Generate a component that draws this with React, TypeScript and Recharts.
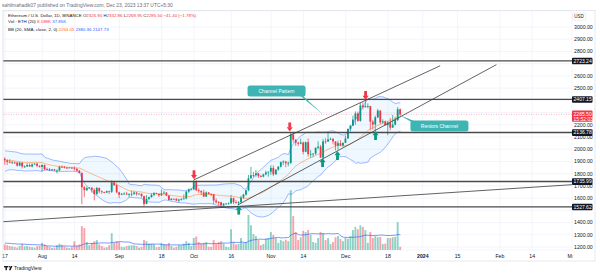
import React from "react";
import {
  Area,
  Bar,
  CartesianGrid,
  ComposedChart,
  Line,
  ReferenceDot,
  ReferenceLine,
  XAxis,
  YAxis,
} from "recharts";

// daily candles, Jul 17 2023 (day 0) .. Dec 23 2023 (day 159)
const opens = [
  1922, 1909, 1897, 1890, 1892, 1891, 1866, 1890, 1859, 1859, 1871, 1859, 1875, 1882, 1864,
  1856, 1871, 1838, 1836, 1828, 1835, 1826, 1826, 1856, 1855, 1850, 1848, 1850, 1844, 1840, 1825, 1805, 1689, 1665, 1682, 1686, 1668, 1634, 1683, 1656, 1650, 1645, 1657, 1652, 1728, 1705,
  1647, 1628, 1636, 1637, 1630, 1633, 1635, 1646, 1635, 1636, 1616, 1552, 1593, 1607, 1626, 1641, 1635, 1623, 1639, 1645, 1621, 1585, 1594, 1593, 1580, 1588, 1593, 1597, 1653, 1669,
  1671, 1733, 1664, 1657, 1647, 1612, 1646, 1634, 1633, 1580, 1567, 1566, 1540, 1553, 1555, 1557, 1599, 1566, 1563, 1566, 1604, 1629, 1664, 1762, 1787, 1789, 1803, 1780, 1776, 1794, 1810,
  1816, 1847, 1795, 1833, 1857, 1894, 1899, 1886, 1888, 2121, 2078, 2053, 2045, 2055, 1979, 2058, 1960, 1962, 1964, 2012, 2022, 1931, 2064, 2063, 2081, 2085, 2064, 2029, 2049, 2030,
  2052, 2088, 2166, 2193, 2243, 2293, 2232, 2358, 2344, 2353, 2353, 2225, 2202, 2261, 2316, 2219, 2228, 2197, 2217, 2177, 2201, 2239, 2326.9,
];
const highs = [
  1934, 1919, 1918, 1905, 1898, 1895, 1895, 1892, 1868, 1887, 1885, 1886, 1885, 1888, 1870,
  1877, 1875, 1850, 1847, 1838, 1840, 1835, 1865, 1868, 1862, 1854, 1854, 1853, 1860, 1845, 1830, 1815, 1700, 1695, 1690, 1688, 1680, 1692, 1686, 1663, 1652, 1662, 1660, 1745, 1732, 1720,
  1652, 1642, 1648, 1652, 1640, 1660, 1655, 1650, 1640, 1638, 1620, 1625, 1612, 1640, 1650, 1645, 1637, 1670, 1660, 1650, 1625, 1600, 1598, 1600, 1595, 1600, 1630, 1660, 1680, 1680,
  1750, 1745, 1680, 1665, 1668, 1655, 1650, 1640, 1635, 1598, 1575, 1570, 1560, 1560, 1565, 1625, 1605, 1583, 1575, 1620, 1635, 1667, 1790, 1855, 1815, 1830, 1805, 1790, 1800, 1825, 1818,
  1868, 1868, 1836, 1862, 1900, 1910, 1905, 1900, 2136, 2135, 2082, 2062, 2087, 2062, 2063, 2088, 1993, 1968, 2015, 2065, 2035, 2085, 2090, 2135, 2095, 2090, 2066, 2070, 2075, 2055,
  2112, 2170, 2200, 2275, 2310, 2308, 2380, 2385, 2403, 2375, 2355, 2240, 2275, 2330, 2320, 2245, 2235, 2230, 2255, 2280, 2265, 2345, 2332.86,
];
const lows = [
  1872, 1871, 1886, 1880, 1880, 1858, 1860, 1843, 1848, 1855, 1855, 1852, 1872, 1852, 1850,
  1815, 1826, 1827, 1820, 1822, 1822, 1803, 1822, 1850, 1842, 1838, 1845, 1838, 1826, 1815, 1804, 1550, 1610, 1658, 1675, 1645, 1582, 1626, 1640, 1635, 1642, 1642, 1632, 1642, 1700, 1640,
  1600, 1624, 1630, 1625, 1605, 1615, 1625, 1620, 1632, 1605, 1531, 1550, 1585, 1605, 1615, 1630, 1610, 1617, 1633, 1615, 1580, 1582, 1590, 1575, 1565, 1580, 1590, 1590, 1643, 1665,
  1668, 1658, 1643, 1625, 1610, 1610, 1628, 1616, 1552, 1555, 1540, 1521, 1530, 1550, 1548, 1555, 1550, 1555, 1545, 1563, 1596, 1620, 1656, 1760, 1772, 1775, 1765, 1770, 1770, 1788, 1775,
  1790, 1780, 1790, 1825, 1850, 1870, 1853, 1860, 1880, 2055, 2028, 2026, 2040, 1958, 1975, 1940, 1930, 1935, 1955, 1998, 1930, 1930, 2045, 2060, 2076, 2040, 1990, 1995, 2025, 2020,
  2050, 2085, 2145, 2190, 2200, 2225, 2225, 2325, 2340, 2335, 2155, 2160, 2150, 2255, 2205, 2210, 2195, 2115, 2155, 2175, 2195, 2230, 2268.95,
];
const closes = [
  1909, 1897, 1890, 1892, 1891, 1866, 1890, 1859, 1859, 1871, 1859, 1875, 1882, 1864, 1856,
  1871, 1838, 1836, 1828, 1835, 1826, 1826, 1856, 1855, 1850, 1848, 1850, 1844, 1840, 1825, 1805, 1689, 1665, 1682, 1686, 1668, 1634, 1683, 1656, 1650, 1645, 1657, 1652, 1728, 1705, 1647,
  1628, 1636, 1637, 1630, 1633, 1635, 1646, 1635, 1636, 1616, 1552, 1593, 1607, 1626, 1641, 1635, 1623, 1639, 1645, 1621, 1585, 1594, 1593, 1580, 1588, 1593, 1597, 1653, 1669, 1671,
  1733, 1664, 1657, 1647, 1612, 1646, 1634, 1633, 1580, 1567, 1566, 1540, 1553, 1555, 1557, 1599, 1566, 1563, 1566, 1604, 1629, 1664, 1762, 1787, 1789, 1803, 1780, 1776, 1794, 1810, 1816,
  1847, 1795, 1833, 1857, 1894, 1899, 1886, 1888, 2121, 2078, 2053, 2045, 2055, 1979, 2058, 1960, 1962, 1964, 2012, 2022, 1931, 2064, 2063, 2081, 2085, 2064, 2029, 2049, 2030, 2052,
  2088, 2166, 2193, 2243, 2293, 2232, 2358, 2344, 2353, 2353, 2225, 2202, 2261, 2316, 2219, 2228, 2197, 2217, 2177, 2201, 2239, 2326.9, 2285.5,
];
// volume in thousand ETH
const volumes = [
  14, 12, 10, 9, 8, 6, 10, 15, 9, 10, 8, 7, 6, 9, 10,
  18, 14, 10, 8, 5, 6, 12, 16, 13, 9, 6, 5, 7, 22, 10, 14, 60, 55, 20, 12, 18, 22, 25, 14, 10, 6, 7, 12, 42, 18, 22,
  20, 8, 7, 10, 11, 12, 12, 10, 6, 8, 25, 22, 16, 16, 14, 7, 8, 18, 14, 14, 18, 10, 6, 8, 12, 12, 16, 22, 18, 10,
  30, 34, 20, 16, 18, 20, 8, 8, 25, 15, 20, 22, 16, 8, 7, 52, 20, 14, 15, 30, 18, 20, 88, 62, 40, 35, 25, 12, 15, 28, 30,
  45, 38, 30, 18, 25, 22, 26, 22, 150, 85, 45, 25, 32, 48, 45, 50, 38, 20, 18, 30, 45, 42, 25, 30, 15, 20, 32, 35, 28, 22,
  30, 28, 35, 50, 58, 52, 62, 58, 50, 18, 45, 30, 35, 32, 33, 15, 16, 30, 30, 32, 33, 70, 8.188,
];
// the 19 sessions before day 0, only for the 20-day indicators
const warmupCloses = [1830, 1852, 1934, 1925, 1937, 1955, 1937, 1910, 1850, 1868, 1864, 1860, 1880, 1878, 1872, 2005, 1935, 1928, 1922];
const warmupVolumes = [20, 18, 25, 14, 16, 12, 14, 18, 22, 14, 10, 9, 15, 14, 16, 45, 30, 12, 10];

const dateTicks = [0, 15, 28, 46, 63, 76, 91, 107, 120, 137, 154, 168, 182, 199, 212, 228];
const dateLabels = ["17", "Aug", "14", "Sep", "18", "Oct", "16", "Nov", "14", "Dec", "18", "2024", "15", "Feb", "14", "Mar"];
const priceTicks = [1200, 1300, 1400, 1500, 1600, 1700, 1800, 1900, 2000, 2100, 2200, 2300, 2400, 2500, 2600, 2700, 2800, 2900, 3000];
// these tick labels sit under the level tags
const coveredTicks = [1500, 2300, 2400, 2700];

const levels = [2723.24, 2407.15, 2136.78, 1735.99, 1527.62];
const lastPrice = 2285.5;
const lastTime = "15:52:03";

// drawings: [day, price]
const trendLines = [
  [[76, 1750], [175, 2683]],
  [[93.6, 1544], [197.6, 2692]],
  [[-0.8, 1407], [228, 1710]],
];
const sellMarks = [[76, 1754], [114.5, 2145], [145, 2403]];
const buyMarks = [[94, 1539], [127.7, 1928], [133.7, 1985], [149, 2149]];
const calloutText = ["Channel Pattern", "Reniors Channel"];
const calloutAt = [[109.2, 2476], [174.7, 2190]];
const calloutLeader = [
  [[118.5, 2452], [128.1, 2280]],
  [[164.3, 2223], [158.6, 2280]],
];

const GREEN = "#089981";
const RED = "#f23645";
const BLUE = "#2962ff";
const ORANGE = "#ff6d00";
const TEAL = "#3fb4b4";
const INK = "#131722";
const FONT = "'Liberation Sans', Arial, sans-serif";

function rolling(values: number[], n: number) {
  return values.map((_, i) => {
    const w = values.slice(Math.max(0, i - n + 1), i + 1);
    const mean = w.reduce((a, b) => a + b, 0) / w.length;
    const sd = Math.sqrt(w.reduce((a, b) => a + (b - mean) ** 2, 0) / w.length);
    return { mean, sd };
  });
}

const closeStats = rolling([...warmupCloses, ...closes], 20).slice(warmupCloses.length);
const volStats = rolling([...warmupVolumes, ...volumes], 20).slice(warmupVolumes.length);

const rows = closes.map((c, i) => {
  const basis = closeStats[i].mean;
  const upper = basis + 2 * closeStats[i].sd;
  const lower = basis - 2 * closeStats[i].sd;
  return {
    d: i,
    o: opens[i],
    h: highs[i],
    l: lows[i],
    c,
    range: [lows[i], highs[i]],
    v: volumes[i],
    up: c >= opens[i],
    basis,
    upper,
    lower,
    band: [lower, upper],
    vma: volStats[i].mean,
  };
});

function Candle(props: any) {
  const { x, y, width, height, payload } = props;
  const top = Math.min(y, y + height);
  const span = Math.abs(height);
  const k = span / Math.max(payload.h - payload.l, 0.01);
  const yo = top + (payload.h - payload.o) * k;
  const yc = top + (payload.h - payload.c) * k;
  const cx = x + width / 2;
  const color = payload.up ? GREEN : RED;
  return (
    <g>
      <line x1={cx} x2={cx} y1={top} y2={top + span} stroke={color} strokeWidth={0.7} />
      <rect x={cx - 0.9} y={Math.min(yo, yc)} width={1.8} height={Math.max(Math.abs(yo - yc), 0.8)} fill={color} />
    </g>
  );
}

function VolumeBar(props: any) {
  const { x, y, width, height, payload } = props;
  return (
    <rect
      x={x + width / 2 - 0.95}
      y={Math.min(y, y + height)}
      width={1.9}
      height={Math.abs(height)}
      fill={payload.up ? GREEN : RED}
      fillOpacity={0.45}
    />
  );
}

function DateTick(props: any) {
  const { x, y, payload } = props;
  const label = dateLabels[dateTicks.indexOf(payload.value)];
  return (
    <text x={x} y={y + 7.6} textAnchor="middle" fontSize={5.2} fontFamily={FONT} fill={INK} fontWeight={label === "2024" ? 700 : 400}>
      {label}
    </text>
  );
}

function PriceTick(props: any) {
  const { x, y, payload } = props;
  if (coveredTicks.includes(payload.value)) return null;
  return (
    <text x={x + 2} y={y + 1.9} fontSize={5.2} fontFamily={FONT} fill={INK}>
      {payload.value.toFixed(2)}
    </text>
  );
}

function LevelTag(props: any) {
  const { viewBox, text } = props;
  const x = viewBox.x + viewBox.width;
  const y = viewBox.y;
  return (
    <g>
      <rect x={x} y={y - 3.2} width={20.5} height={6.6} rx={1} fill={INK} />
      <text x={x + 1.6} y={y + 1.9} fontSize={5} fontFamily={FONT} fill="#fff">
        {text}
      </text>
    </g>
  );
}

function LastTag(props: any) {
  const { viewBox } = props;
  const x = viewBox.x + viewBox.width;
  const y = viewBox.y;
  return (
    <g>
      <rect x={x} y={y - 3.8} width={20.5} height={11.2} rx={1} fill={RED} />
      <text x={x + 1.6} y={y + 1.9} fontSize={5} fontFamily={FONT} fill="#fff">
        {lastPrice.toFixed(2)}
      </text>
      <text x={x + 1.6} y={y + 6.6} fontSize={5} fontFamily={FONT} fill="#fff">
        {lastTime}
      </text>
    </g>
  );
}

function SellArrow(props: any) {
  const { cx, cy } = props;
  return (
    <g fill={RED}>
      <rect x={cx - 1.4} y={cy - 9} width={2.8} height={5} />
      <polygon points={`${cx - 3},${cy - 4.2} ${cx + 3},${cy - 4.2} ${cx},${cy}`} />
    </g>
  );
}

function BuyArrow(props: any) {
  const { cx, cy } = props;
  return (
    <g fill={GREEN}>
      <rect x={cx - 1.4} y={cy + 4} width={2.8} height={5} />
      <polygon points={`${cx - 3},${cy + 4.2} ${cx + 3},${cy + 4.2} ${cx},${cy}`} />
    </g>
  );
}

function CalloutBox(props: any) {
  const { cx, cy, text } = props;
  return (
    <g>
      <rect x={cx - 29} y={cy - 5.5} width={58} height={11} rx={2.5} fill={TEAL} />
      <text x={cx} y={cy + 1.8} textAnchor="middle" fontSize={5} fontFamily={FONT} fill="#fff">
        {text}
      </text>
    </g>
  );
}

function Wedge(props: any) {
  const { x1, y1, x2, y2 } = props;
  return <polygon points={`${x1},${y1 - 1.3} ${x1},${y1 + 1.3} ${x2},${y2}`} fill={TEAL} />;
}

export default function App() {
  return (
    <div style={{ position: "absolute", left: 0, top: 0, width: 600, height: 275, background: "#fff" }}>
      <ComposedChart width={600} height={275} data={rows} margin={{ top: 11, right: 3, bottom: 14, left: 3 }}>
        <CartesianGrid xAxisId="p" yAxisId="p" stroke="#f0f3fa" strokeWidth={0.8} />
        <XAxis
          xAxisId="p"
          type="number"
          dataKey="d"
          domain={[-0.8, 228]}
          allowDataOverflow
          ticks={dateTicks}
          interval={0}
          tick={<DateTick />}
          tickLine={false}
          axisLine={false}
          tickSize={0}
          tickMargin={0}
          height={11}
        />
        <XAxis xAxisId="v" type="number" dataKey="d" domain={[-0.8, 228]} allowDataOverflow hide />
        <YAxis
          yAxisId="p"
          orientation="right"
          domain={[1175.5, 3131]}
          allowDataOverflow
          ticks={priceTicks}
          interval={0}
          tick={<PriceTick />}
          tickLine={false}
          axisLine={false}
          tickSize={0}
          tickMargin={0}
          width={25}
        />
        <YAxis yAxisId="v" domain={[0, 600]} allowDataOverflow hide />

        <Bar xAxisId="v" yAxisId="v" dataKey="v" barSize={2} shape={<VolumeBar />} isAnimationActive={false} />
        <Line xAxisId="v" yAxisId="v" type="linear" dataKey="vma" stroke={BLUE} strokeWidth={0.8} strokeOpacity={0.8} dot={false} isAnimationActive={false} />

        <Area xAxisId="p" yAxisId="p" type="linear" dataKey="band" stroke="none" fill="#2196f3" fillOpacity={0.07} isAnimationActive={false} />
        <Line xAxisId="p" yAxisId="p" type="linear" dataKey="upper" stroke={BLUE} strokeOpacity={0.55} strokeWidth={0.8} dot={false} isAnimationActive={false} />
        <Line xAxisId="p" yAxisId="p" type="linear" dataKey="lower" stroke={BLUE} strokeOpacity={0.55} strokeWidth={0.8} dot={false} isAnimationActive={false} />
        <Line xAxisId="p" yAxisId="p" type="linear" dataKey="basis" stroke={ORANGE} strokeOpacity={0.55} strokeWidth={0.8} dot={false} isAnimationActive={false} />

        <ReferenceLine xAxisId="p" yAxisId="p" y={lastPrice} stroke={RED} strokeOpacity={0.5} strokeWidth={0.7} strokeDasharray="1 1.5" label={<LastTag />} />

        <Bar xAxisId="p" yAxisId="p" dataKey="range" barSize={2} shape={<Candle />} isAnimationActive={false} />

        {levels.map((lv) => (
          <ReferenceLine key={lv} xAxisId="p" yAxisId="p" y={lv} stroke="#4a4a4a" strokeWidth={1.3} label={<LevelTag text={lv.toFixed(2)} />} />
        ))}
        {trendLines.map((seg, i) => (
          <ReferenceLine
            key={"t" + i}
            xAxisId="p"
            yAxisId="p"
            segment={[{ x: seg[0][0], y: seg[0][1] }, { x: seg[1][0], y: seg[1][1] }]}
            stroke="#3a3a3a"
            strokeWidth={0.8}
            ifOverflow="visible"
          />
        ))}
        {calloutLeader.map((seg, i) => (
          <ReferenceLine
            key={"w" + i}
            xAxisId="p"
            yAxisId="p"
            segment={[{ x: seg[0][0], y: seg[0][1] }, { x: seg[1][0], y: seg[1][1] }]}
            shape={<Wedge />}
            ifOverflow="visible"
          />
        ))}
        {calloutAt.map((p, i) => (
          <ReferenceDot key={"c" + i} xAxisId="p" yAxisId="p" x={p[0]} y={p[1]} ifOverflow="visible" shape={<CalloutBox text={calloutText[i]} />} />
        ))}
        {sellMarks.map((p, i) => (
          <ReferenceDot key={"s" + i} xAxisId="p" yAxisId="p" x={p[0]} y={p[1]} ifOverflow="visible" shape={<SellArrow />} />
        ))}
        {buyMarks.map((p, i) => (
          <ReferenceDot key={"b" + i} xAxisId="p" yAxisId="p" x={p[0]} y={p[1]} ifOverflow="visible" shape={<BuyArrow />} />
        ))}
      </ComposedChart>

      <svg width={600} height={275} style={{ position: "absolute", left: 0, top: 0, pointerEvents: "none" }} fontFamily={FONT}>
        <rect x={572.5} y={251} width={22} height={9.5} fill="#fff" />
        <rect x={3} y={10.5} width={592} height={250.5} fill="none" stroke="#e0e3eb" strokeWidth={0.8} />
        <text x={2} y={6.5} fontSize={4.9} fill="#6a6d78">
          sahilmahadik07 published on TradingView.com, Dec 23, 2023 13:37 UTC+5:30
        </text>
        <text x={8} y={17.3} fontSize={4.4} fill={INK}>
          Ethereum / U.S. Dollar, 1D, BINANCE <tspan>O</tspan>
          <tspan fill={RED}>2326.90</tspan> <tspan>H</tspan>
          <tspan fill={RED}>2332.86</tspan> <tspan>L</tspan>
          <tspan fill={RED}>2268.95</tspan> <tspan>C</tspan>
          <tspan fill={RED}>2285.50 −41.40 (−1.78%)</tspan>
        </text>
        <text x={8} y={22.6} fontSize={4.4} fill={INK}>
          Vol · ETH (20) <tspan fill={RED}>8.188K</tspan> <tspan fill={BLUE}>37.85K</tspan>
        </text>
        <text x={8} y={30.5} fontSize={4.4} fill={INK}>
          BB (20, SMA, close, 2, 0) <tspan fill={ORANGE}>2264.05</tspan> <tspan fill={BLUE}>2380.36</tspan>{" "}
          <tspan fill={BLUE}>2147.73</tspan>
        </text>
        <rect x={572.5} y={13} width={13} height={7} rx={1} fill="#fff" stroke="#e0e3eb" strokeWidth={0.6} />
        <text x={579} y={18.2} textAnchor="middle" fontSize={4.5} fill={INK}>
          USD
        </text>
        <g fill={INK}>
          <rect x={4} y={266} width={4} height={1.4} />
          <rect x={5.5} y={266} width={1.4} height={4.2} />
          <circle cx={9.2} cy={266.8} r={0.8} />
          <polygon points="10.6,266 12.4,266 10.6,270.2 9,270.2" />
        </g>
        <text x={14} y={270} fontSize={5} fill={INK}>
          TradingView
        </text>
      </svg>
    </div>
  );
}
